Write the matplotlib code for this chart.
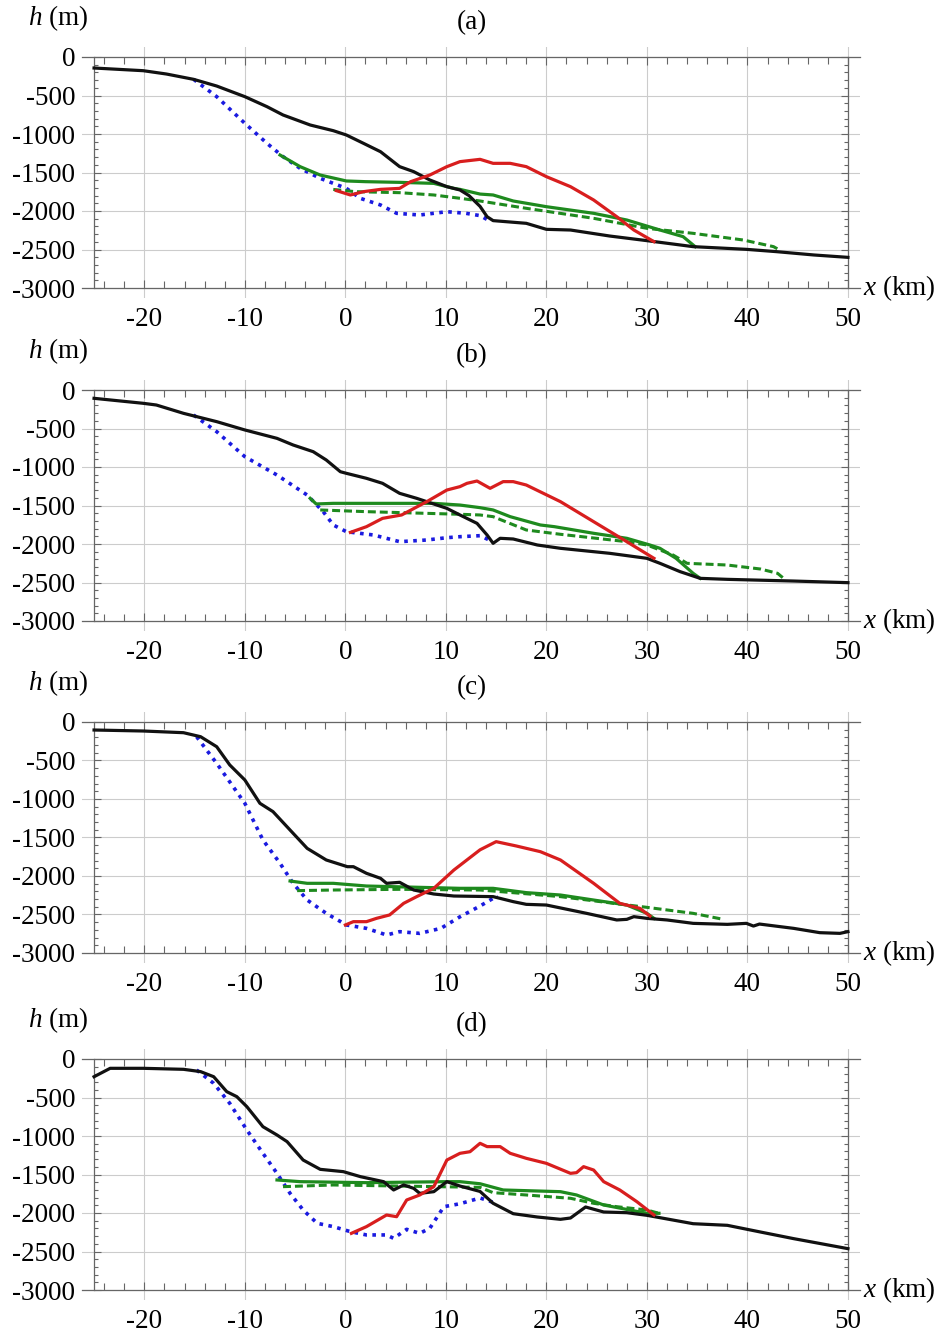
import numpy as np
import matplotlib
matplotlib.use("Agg")
import matplotlib.pyplot as plt
from matplotlib.ticker import FixedLocator

plt.rcParams['font.family'] = ['Liberation Serif', 'DejaVu Serif']
plt.rcParams['mathtext.fontset'] = 'custom'
plt.rcParams['mathtext.it'] = 'Liberation Serif:italic'
plt.rcParams['mathtext.rm'] = 'Liberation Serif'

# ---- panel (a) ----
a_bed_x = [-25, -20.1, -17.8, -15.1, -12.8, -10, -7.8, -6.2, -3.5, -1.2, 0.1, 1.8, 3.5, 5.4, 6.8, 8.4,
           10.1, 11.4, 12.3, 13.4, 14.1, 14.7, 18, 20, 22.4, 26.3, 30, 34.6, 39.9, 42.9, 46.6, 50]
a_bed_h = [-143, -178, -221, -290, -377, -515, -645, -753, -883, -957, -1013, -1121, -1230, -1424, -1489, -1597,
           -1684, -1727, -1800, -1940, -2074, -2125, -2160, -2238, -2247, -2325, -2385, -2463, -2498, -2528, -2571, -2602]
a_slip_x = [-15.1, -12.8, -10, -7.8, -6.2, -4.5, -2.5, 0.1, 1.5, 3.5, 5.1, 7.4, 10.1, 12, 13.4, 14.1]
a_slip_h = [-290, -515, -861, -1121, -1294, -1446, -1576, -1706, -1836, -1922, -2030, -2052, -2009, -2030, -2060, -2110]
a_fin_x = [-6.5, -4.5, -2.5, 0.1, 2, 5.4, 8.8, 10.8, 11.4, 13.4, 14.7, 16.7, 20, 24.7, 28, 31.3, 33.6, 34.8]
a_fin_h = [-1273, -1424, -1533, -1610, -1619, -1628, -1641, -1706, -1719, -1780, -1792, -1870, -1944, -2030, -2117, -2247, -2333, -2463]
a_eq_x = [-1.2, 1, 5.4, 8.8, 11.4, 13.4, 18, 24.7, 30, 34.6, 39.6, 42.6, 43.3]
a_eq_h = [-1720, -1749, -1762, -1792, -1835, -1870, -1965, -2095, -2225, -2290, -2377, -2463, -2515]
a_dep_x = [-0.9, 0.5, 1.8, 3.5, 5.4, 6.5, 8.4, 10.1, 11.4, 13.4, 14.7, 16.4, 18, 20, 22.4, 24.7, 27, 28.7, 30.7]
a_dep_h = [-1735, -1792, -1749, -1719, -1706, -1619, -1533, -1424, -1359, -1329, -1381, -1381, -1424, -1554,
           -1684, -1857, -2074, -2247, -2398]

# ---- panel (b) ----
b_bed_x = [-25, -20.1, -18.8, -16.1, -12.8, -10, -6.8, -5.2, -3.2, -1.9, -0.5, 0.1, 2.1, 3.7, 5.4, 7.1, 10.1,
           11.4, 13.1, 14.1, 14.7, 15.4, 16.7, 19.1, 21.4, 26.3, 30, 31.3, 33.3, 35.3, 38, 44.6, 50]
b_bed_h = [-108, -173, -195, -303, -411, -519, -628, -714, -801, -909, -1061, -1082, -1147, -1212, -1342, -1407, -1537,
           -1623, -1732, -1883, -1991, -1926, -1935, -2013, -2056, -2121, -2186, -2251, -2359, -2446, -2459, -2481, -2502]
b_slip_x = [-15.1, -12.8, -10, -6.8, -3.8, -2.2, -1.2, 0.1, 2.8, 5.4, 8.1, 10.1, 11.4, 13.4, 14.5]
b_slip_h = [-325, -541, -866, -1104, -1364, -1580, -1753, -1840, -1883, -1970, -1948, -1918, -1905, -1892, -1960]
b_fin_x = [-3.5, -2.9, -1.2, 2.1, 8.8, 11.4, 13.4, 14.7, 16.4, 19.4, 20.8, 24.7, 28, 30.3, 31.3, 32.9, 34.6, 35.3]
b_fin_h = [-1407, -1480, -1472, -1472, -1472, -1494, -1528, -1558, -1645, -1753, -1775, -1861, -1926, -2013,
           -2056, -2186, -2381, -2446]
b_eq_x = [-2.5, 2.1, 11.4, 13.4, 14.7, 18, 21.4, 28, 30, 32.6, 34, 38, 41.3, 43, 43.8]
b_eq_h = [-1558, -1580, -1614, -1623, -1645, -1818, -1874, -1970, -2013, -2143, -2251, -2273, -2325, -2381, -2468]
b_dep_x = [0.5, 2.1, 3.7, 5.6, 8.1, 10.1, 11.4, 12.1, 13.1, 14.4, 15.7, 16.7, 18, 21.4, 24.7, 28, 30.7]
b_dep_h = [-1849, -1775, -1667, -1623, -1450, -1299, -1255, -1212, -1182, -1277, -1190, -1190, -1234, -1450,
           -1710, -1970, -2186]

# ---- panel (c) ----
c_bed_x = [-25, -20.1, -16.1, -14.4, -12.8, -11.5, -10, -8.5, -7.2, -5.5, -3.8, -1.9, 0.2, 0.8, 2.1, 3.5, 4.1,
           5.4, 6.8, 8.8, 10.8, 14.7, 16.7, 18, 20, 24, 27, 28, 28.7, 30, 32, 34.6, 38, 39.9, 40.6, 41.2, 44.6,
           47.2, 49.2, 50]
c_bed_h = [-104, -117, -139, -191, -321, -558, -753, -1056, -1164, -1403, -1641, -1792, -1879, -1879, -1965, -2030,
           -2095, -2082, -2182, -2234, -2260, -2268, -2333, -2368, -2377, -2485, -2571, -2563, -2528, -2550, -2571,
           -2615, -2628, -2615, -2650, -2624, -2680, -2736, -2745, -2723]
c_slip_x = [-14.8, -12.8, -10, -8.2, -6.5, -5.2, -3.8, -1.9, 0.1, 2.1, 4.1, 5.4, 7.4, 9.5, 11.4, 13.4, 14.7, 15.2]
c_slip_h = [-191, -537, -1056, -1532, -1835, -2095, -2312, -2485, -2636, -2680, -2766, -2723, -2745, -2680,
            -2530, -2390, -2290, -2272]
c_fin_x = [-5.5, -3.8, -1.2, 2.1, 11.4, 14.7, 18, 21.4, 24.7, 28, 30, 30.7]
c_fin_h = [-2065, -2095, -2095, -2130, -2160, -2160, -2216, -2247, -2312, -2377, -2485, -2550]
c_eq_x = [-4.8, -1.2, 5.4, 13.4, 14.7, 21.4, 26.7, 30, 34.6, 37.6]
c_eq_h = [-2190, -2182, -2173, -2182, -2195, -2268, -2355, -2407, -2485, -2563]
c_dep_x = [0, 0.8, 2.1, 3.1, 4.4, 5.8, 7.1, 8.8, 10.8, 13.4, 15, 17, 19.4, 21.4, 24.7, 27.3, 29.3, 30.3]
c_dep_h = [-2636, -2593, -2593, -2550, -2506, -2355, -2268, -2160, -1922, -1660, -1554, -1610, -1684, -1792,
           -2095, -2355, -2420, -2520]

# ---- panel (d) ----
d_bed_x = [-25, -23.4, -20.1, -16.1, -14.4, -13.1, -11.8, -10.8, -9.8, -8.2, -6.8, -5.8, -4.2, -2.5, -0.2, 1.5,
           3.8, 4.8, 5.8, 6.8, 7.4, 8.8, 10.1, 11.4, 13.4, 14.7, 16.7, 19.1, 21.4, 22.4, 23.9, 25.7, 28, 30, 34.6,
           38, 41.3, 44.6, 50]
d_bed_h = [-230, -121, -121, -134, -164, -230, -424, -489, -619, -879, -987, -1073, -1312, -1433, -1463, -1528,
           -1593, -1701, -1636, -1680, -1745, -1723, -1593, -1650, -1720, -1874, -2009, -2052, -2082, -2065, -1922,
           -1987, -1996, -2030, -2139, -2160, -2247, -2333, -2463]
d_slip_x = [-14.8, -13.1, -11.5, -9.8, -8.2, -6.8, -5.5, -4.2, -2.8, -1.2, 0.5, 2.1, 4.1, 4.8, 6.1, 7.4, 8.4,
            9.8, 11.4, 13.4, 14.7]
d_slip_h = [-143, -316, -576, -922, -1225, -1485, -1745, -1961, -2134, -2177, -2242, -2285, -2285, -2329, -2212,
            -2264, -2199, -1918, -1880, -1805, -1861]
d_fin_x = [-6.8, -4.5, 2.1, 10.1, 11.4, 13.4, 15.7, 21.4, 23, 25.7, 30, 31.2]
d_fin_h = [-1571, -1593, -1606, -1593, -1593, -1620, -1701, -1723, -1766, -1896, -2004, -2004]
d_eq_x = [-6.2, -1.2, 13.4, 14.7, 18, 22.4, 24.7, 27, 30, 31.2]
d_eq_h = [-1658, -1636, -1667, -1736, -1766, -1809, -1874, -1918, -1961, -2004]
d_dep_x = [0.6, 2.1, 4.1, 5.1, 6.1, 7.4, 8.8, 10.1, 11.4, 12.4, 13.4, 14.1, 15.4, 16.4, 18, 20, 22.4, 23, 23.7,
           24.7, 25.7, 27.3, 29, 30.7]
d_dep_h = [-2264, -2177, -2026, -2048, -1831, -1766, -1658, -1312, -1225, -1204, -1095, -1138, -1138, -1225,
           -1290, -1355, -1485, -1476, -1398, -1442, -1593, -1701, -1853, -2026]

panel_labels = ['(a)', '(b)', '(c)', '(d)']
x_ticks = [-20, -10, 0, 10, 20, 30, 40, 50]
y_ticks = [0, -500, -1000, -1500, -2000, -2500, -3000]

panels = [
    (a_bed_x, a_bed_h, a_slip_x, a_slip_h, a_fin_x, a_fin_h, a_eq_x, a_eq_h, a_dep_x, a_dep_h),
    (b_bed_x, b_bed_h, b_slip_x, b_slip_h, b_fin_x, b_fin_h, b_eq_x, b_eq_h, b_dep_x, b_dep_h),
    (c_bed_x, c_bed_h, c_slip_x, c_slip_h, c_fin_x, c_fin_h, c_eq_x, c_eq_h, c_dep_x, c_dep_h),
    (d_bed_x, d_bed_h, d_slip_x, d_slip_h, d_fin_x, d_fin_h, d_eq_x, d_eq_h, d_dep_x, d_dep_h),
]

W, H = 942, 1336
fig = plt.figure(figsize=(W / 100, H / 100), dpi=100)

# pixel row of h = 0 in each panel
zero_rows = [57, 390, 722, 1059]
px_per_m = 231 / 3000.0
x_lo, x_hi = -26.2, 51.2
y_lo, y_hi = -3130, 130
ax_left, ax_right = 82, 860
FS = 19.5

for k, (bx, bh, sx, sh, fx, fh, ex, eh, dx, dh) in enumerate(panels):
    top = zero_rows[k] - y_hi * px_per_m
    height = (y_hi - y_lo) * px_per_m
    ax = fig.add_axes([ax_left / W, 1 - (top + height) / H, (ax_right - ax_left) / W, height / H])
    ax.set_xlim(x_lo, x_hi)
    ax.set_ylim(y_lo, y_hi)

    ax.plot(bx, bh, color='#111111', lw=2.3, zorder=5)
    ax.plot(sx, sh, color='#1a1ae0', lw=2.6, linestyle=(0, (1, 1.5)), zorder=4)
    ax.plot(ex, eh, color='#1e8a1e', lw=2.2, linestyle=(0, (2.6, 1.3)), zorder=4)
    ax.plot(fx, fh, color='#1e8a1e', lw=2.3, zorder=4)
    ax.plot(dx, dh, color='#d81e1e', lw=2.3, zorder=6)

    ax.grid(True, which='major', color='#cccccc', lw=0.8)
    ax.set_axisbelow(True)

    for side in ['left', 'right', 'top', 'bottom']:
        ax.spines[side].set_color('#666666')
        ax.spines[side].set_linewidth(0.9)
    ax.spines['left'].set_position(('data', -25))
    ax.spines['right'].set_position(('data', 50))
    ax.spines['top'].set_position(('data', 0))
    ax.spines['bottom'].set_position(('data', -3000))
    ax.spines['left'].set_bounds(-3000, 0)
    ax.spines['right'].set_bounds(-3000, 0)

    ax.xaxis.set_major_locator(FixedLocator(x_ticks))
    ax.yaxis.set_major_locator(FixedLocator(y_ticks))
    ax.xaxis.set_minor_locator(FixedLocator(np.arange(-24, 51, 2)))
    ax.yaxis.set_minor_locator(FixedLocator(np.arange(-3000, 1, 100)))
    ax.set_xticklabels([str(v) for v in x_ticks])
    ax.set_yticklabels([str(v) for v in y_ticks])
    ax.tick_params(which='both', direction='in', top=True, right=True, labeltop=False,
                   labelright=False, color='#666666', width=0.8, labelsize=FS)
    ax.tick_params(axis='x', which='major', length=6, pad=14)
    ax.tick_params(axis='x', which='minor', length=5)
    ax.tick_params(axis='y', which='major', length=5, pad=13.5)
    ax.tick_params(axis='y', which='minor', length=3)

    zr = zero_rows[k]
    fig.text(58 / W, 1 - (zr - 39) / H, '$h$ (m)', ha='center', va='center', fontsize=FS)
    fig.text(472 / W, 1 - (zr - 34) / H, panel_labels[k], ha='center', va='center', fontsize=FS)
    fig.text(863 / W, 1 - (zr + 231) / H, '$x$ (km)', ha='left', va='center', fontsize=FS)

fig.savefig('out.png', dpi=100)
